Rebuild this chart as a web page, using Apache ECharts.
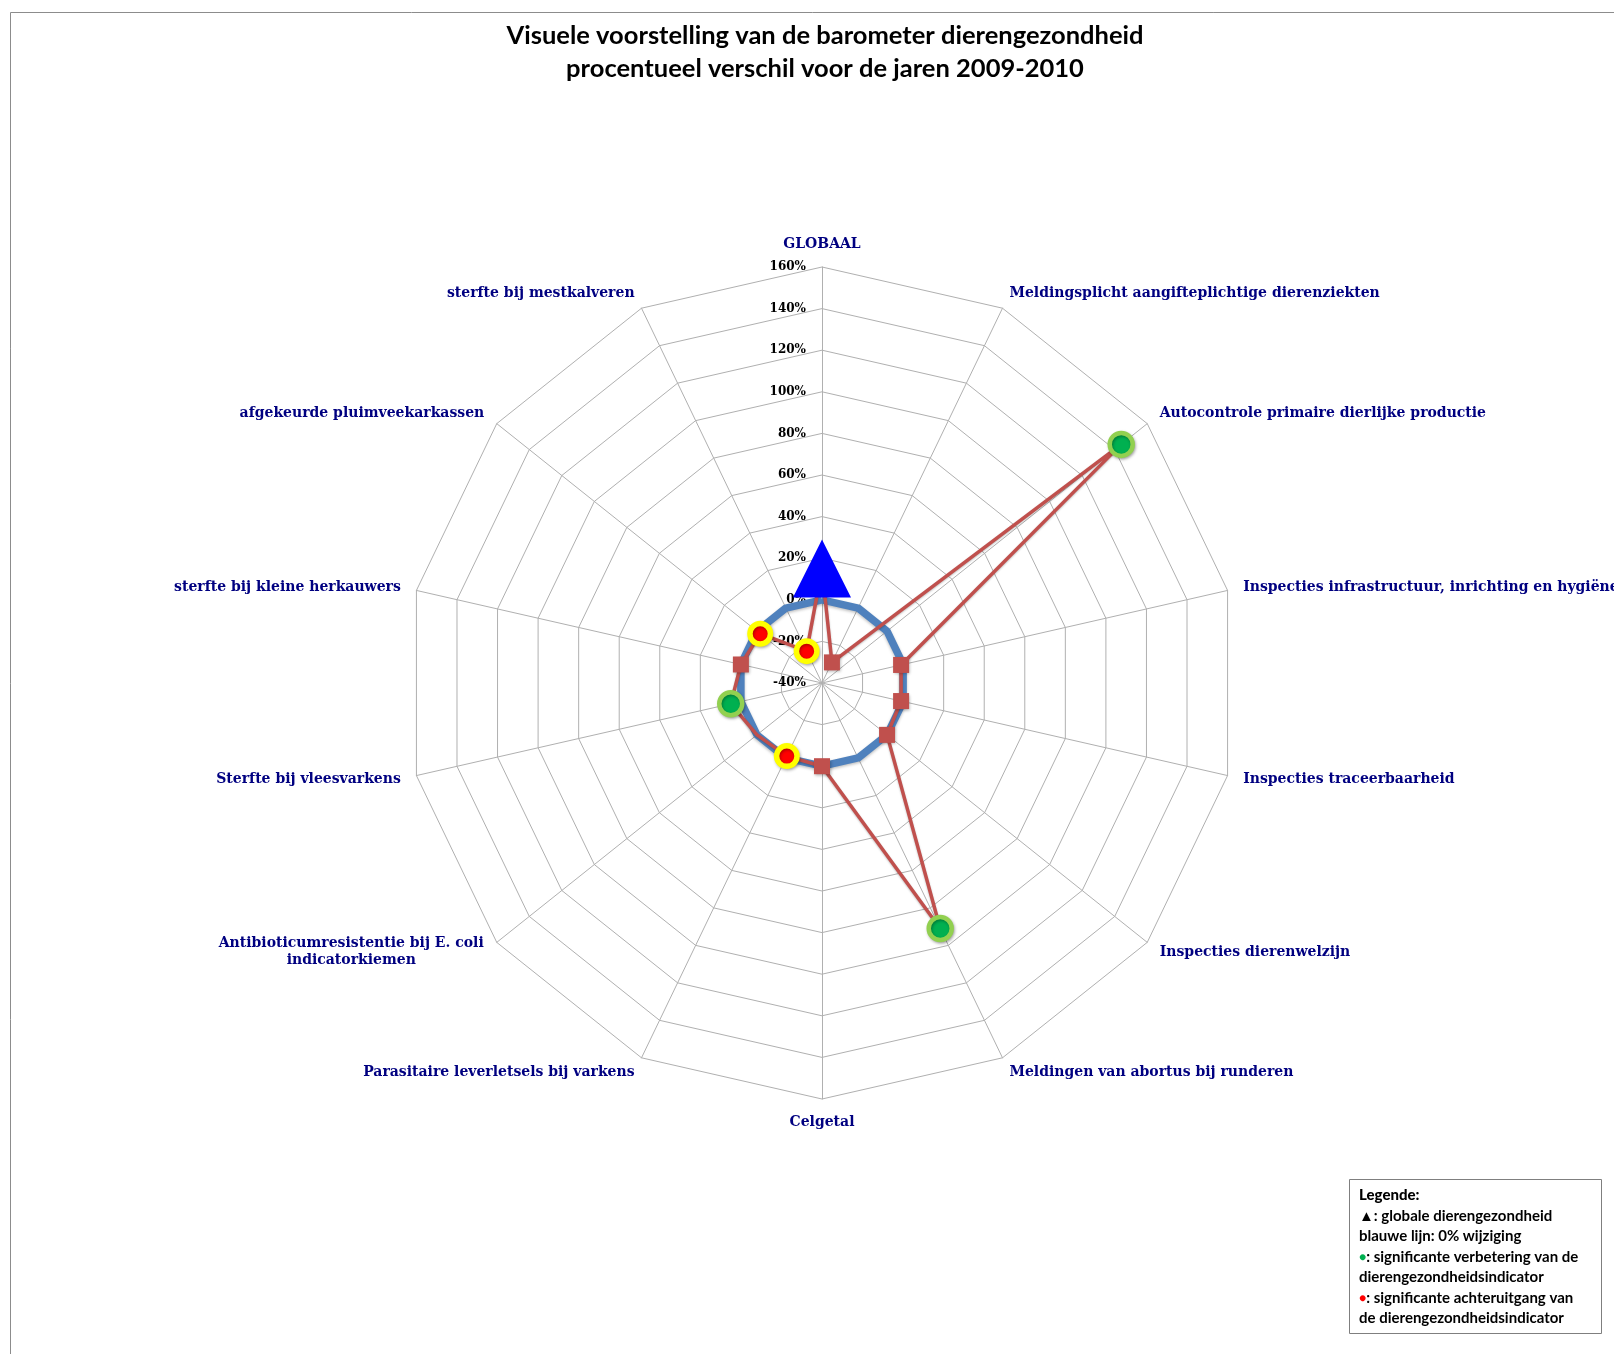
<!DOCTYPE html>
<html>
<head>
<meta charset="utf-8">
<title>Barometer dierengezondheid</title>
<script src="https://cdn.jsdelivr.net/npm/echarts@6/dist/echarts.min.js"></script>
<style>
	html, body { margin: 0; padding: 0; background: #fff; }
	#chart { width: 1614px; height: 1354px; }
</style>
</head>
<body>
<div id="chart"></div>
<script>

// indicatoren, met de klok mee vanaf boven
const categories = [
	'GLOBAAL',
	'Meldingsplicht aangifteplichtige dierenziekten',
	'Autocontrole primaire dierlijke productie',
	'Inspecties infrastructuur, inrichting en hygiëne',
	'Inspecties traceerbaarheid',
	'Inspecties dierenwelzijn',
	'Meldingen van abortus bij runderen',
	'Celgetal',
	'Parasitaire leverletsels bij varkens',
	'Antibioticumresistentie bij E. coli\nindicatorkiemen',
	'Sterfte bij vleesvarkens',
	'sterfte bij kleine herkauwers',
	'afgekeurde pluimveekarkassen',
	'sterfte bij mestkalveren',
];

// procentueel verschil 2009-2010
const changeValues = [15, -29, 144, -1, -1, 0, 91, 0, -1, 0, 5, 0, -2, -23];

// blauwe lijn: 0% wijziging
const zeroValues = [0, 0, 0, 0, 0, 0, 0, 0, 0, 0, 0, 0, 0, 0];

// triangle = globaal, good = significante verbetering, bad = significante achteruitgang
const markerTypes = ['triangle', 'square', 'good', 'square', 'square', 'square', 'good',
	'square', 'bad', 'none', 'good', 'square', 'bad', 'bad'];

const tickLabels = ['-40', '-20', '0', '20', '40', '60', '80', '100', '120', '140', '160'];

const AXIS_MIN = -40;
const AXIS_MAX = 160;
const CENTER = [822, 683];
const RADIUS = 416;
const NAVY = '#000080';
const serif = "'DejaVu Serif', 'Liberation Serif', serif";
const NAME_SIZE = 14;

const shadow = { shadowBlur: 3, shadowOffsetX: 1, shadowOffsetY: 1.5, shadowColor: 'rgba(0,0,0,0.3)' };

const markerStyle = {
	triangle: { symbol: 'triangle', symbolSize: [58, 58], itemStyle: { color: '#0000ff', opacity: 1 } },
	square: {
		symbol: 'rect', symbolSize: 16,
		itemStyle: Object.assign({ color: '#c0504d', opacity: 1 }, shadow),
	},
	good: {
		symbol: 'circle', symbolSize: 23,
		itemStyle: Object.assign({ color: '#00b050', borderColor: '#92d050', borderWidth: 4.5, opacity: 1 }, shadow),
	},
	bad: {
		symbol: 'circle', symbolSize: 20.5,
		itemStyle: Object.assign({ color: '#ff0000', borderColor: '#ffff00', borderWidth: 5.5, opacity: 1 }, shadow),
	},
};

// breedte van de langste regel meten, zodat tweeregelige namen gecentreerd blijven
const measureText = (text, font) => {
	const ctx = document.createElement('canvas').getContext('2d');
	ctx.font = font;
	return Math.ceil(ctx.measureText(text).width);
};

// radar tekent tegen de klok in, dus de volgorde omdraaien (GLOBAAL blijft boven)
const radarOrder = categories.map((_, i) => (categories.length - i) % categories.length);

const indicators = radarOrder.map((idx) => {
	const ind = { name: categories[idx], min: AXIS_MIN, max: AXIS_MAX };
	if(idx === 0){
		ind.axisLabel = { show: true };
	}
	return ind;
});

const multiLineWidth = Math.max(...categories.filter(c => c.includes('\n'))
	.flatMap(c => c.split('\n'))
	.map(line => measureText(line, `bold ${NAME_SIZE}px 'DejaVu Serif'`)));

// lijn over de polaire as, terug naar het eerste punt om te sluiten
const closedLine = (values) => {
	const pts = values.map((v, i) => [v, i]);
	pts.push([values[0], values.length]);
	return pts;
};

const markerData = changeValues.map((v, i) => {
	const type = markerTypes[i];
	if(type === 'none') return null;
	return Object.assign({ value: [v, i] }, markerStyle[type]);
}).filter(Boolean);

const chart = echarts.init(document.getElementById('chart'));
chart.setOption({
	animation: false,
	backgroundColor: '#ffffff',
	title: {
		text: 'Visuele voorstelling van de barometer dierengezondheid\nprocentueel verschil voor de jaren 2009-2010',
		left: 820,
		top: 14,
		textAlign: 'center',
		textStyle: {
			fontFamily: 'Lato',
			fontWeight: 'bold',
			fontSize: 25.5,
			lineHeight: 33,
			color: '#000',
		},
	},
	radar: {
		center: CENTER,
		radius: RADIUS,
		startAngle: 90,
		shape: 'polygon',
		splitNumber: tickLabels.length - 1,
		indicator: indicators,
		nameGap: 16,
		axisName: {
			color: NAVY,
			fontFamily: serif,
			fontWeight: 'bold',
			fontSize: NAME_SIZE,
			formatter: (name) => {
				if(name.indexOf('\n') < 0) return name;
				return name.split('\n').map((line) => `{ml|${line}}`).join('\n');
			},
			rich: {
				ml: {
					width: multiLineWidth,
					align: 'center',
					lineHeight: 17,
					color: NAVY,
					fontFamily: serif,
					fontWeight: 'bold',
					fontSize: NAME_SIZE,
				},
			},
		},
		axisLine: { lineStyle: { color: '#b0b0b0', width: 1 } },
		splitLine: { lineStyle: { color: '#b0b0b0', width: 1 } },
		splitArea: { show: false },
		axisTick: { show: false },
		axisLabel: {
			show: false,
			color: '#000',
			fontFamily: serif,
			fontWeight: 'bold',
			fontSize: 12,
			margin: 16,
			formatter: (value) => `${value}%`,
		},
	},
	polar: {
		center: CENTER,
		radius: RADIUS,
	},
	angleAxis: {
		type: 'value',
		min: 0,
		max: categories.length,
		startAngle: 90,
		clockwise: true,
		show: false,
	},
	radiusAxis: {
		type: 'value',
		min: AXIS_MIN,
		max: AXIS_MAX,
		show: false,
	},
	series: [
		{
			name: '0% wijziging',
			type: 'line',
			coordinateSystem: 'polar',
			data: closedLine(zeroValues),
			symbol: 'none',
			lineStyle: { color: '#4f81bd', width: 7.5, shadowBlur: 3, shadowOffsetY: 1.5, shadowColor: 'rgba(0,0,0,0.25)' },
			z: 2,
		},
		{
			name: 'verschil 2009-2010',
			type: 'line',
			coordinateSystem: 'polar',
			data: closedLine(changeValues),
			symbol: 'none',
			lineStyle: { color: '#c0504d', width: 3.5, shadowBlur: 2, shadowOffsetY: 1, shadowColor: 'rgba(0,0,0,0.25)' },
			z: 3,
		},
		{
			name: 'markers',
			type: 'scatter',
			coordinateSystem: 'polar',
			data: markerData,
			z: 4,
		},
	],
	graphic: [
		{
			type: 'rect',
			shape: { x: 10.5, y: 12.5, width: 1700, height: 1400 },
			style: { fill: 'none', stroke: '#8c8c8c', lineWidth: 1 },
			silent: true,
			z: -10,
		},
		{
			type: 'group',
			left: 1349,
			top: 1179,
			children: [
				{
					type: 'rect',
					shape: { x: 0.5, y: 0.5, width: 252, height: 154 },
					style: { fill: '#fff', stroke: '#7f7f7f', lineWidth: 1 },
				},
				{
					type: 'text',
					x: 10,
					y: 6,
					style: {
						text: [
							'{h|Legende:}',
							'▲: globale dierengezondheid',
							'blauwe lijn: 0% wijziging',
							'{g|●}: significante verbetering van de',
							'dierengezondheidsindicator',
							'{r|●}: significante achteruitgang van',
							'de dierengezondheidsindicator',
						].join('\n'),
						font: 'bold 15px Lato',
						lineHeight: 20.5,
						fill: '#000',
						rich: {
							h: { fontFamily: 'Lato', fontWeight: 900, fontSize: 15, lineHeight: 20.5 },
							g: { fill: '#00b050', fontFamily: 'Lato', fontSize: 12, lineHeight: 20.5 },
							r: { fill: '#ff0000', fontFamily: 'Lato', fontSize: 12, lineHeight: 20.5 },
						},
					},
				},
			],
		},
	],
});

</script>
</body>
</html>
